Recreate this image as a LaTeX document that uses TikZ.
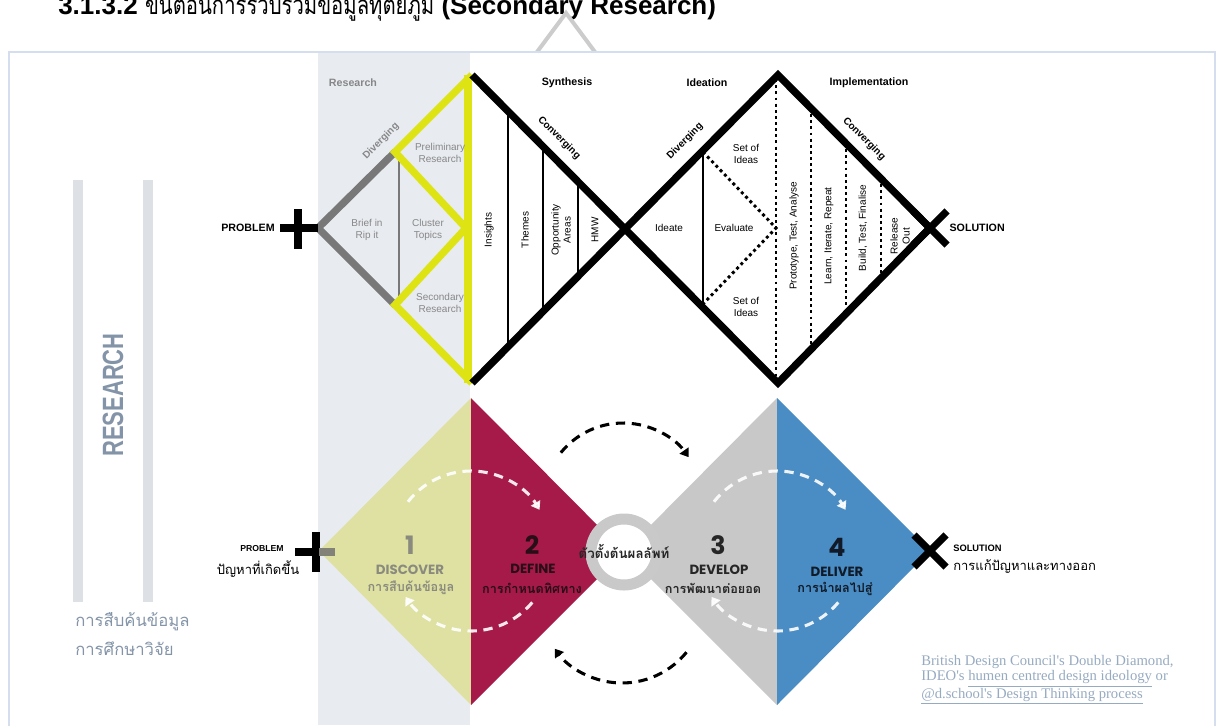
\documentclass[tikz,border=0pt]{standalone}
\usepackage{fontspec}
\setmainfont{Liberation Sans}
\newfontfamily\thaifont[Script=Thai]{Loma}
\newfontfamily\thaihead[Script=Thai,FakeStretch=0.78]{Loma}
\newfontfamily\geofont{Poppins}
\newfontfamily\narrowfont[FakeStretch=0.75]{Liberation Sans}
\newfontfamily\notefont{Liberation Serif}
\usetikzlibrary{arrows.meta}

\definecolor{bandgray}{RGB}{232,235,240}
\definecolor{bargray}{RGB}{221,225,230}
\definecolor{frameblue}{RGB}{212,222,238}
\definecolor{chevgray}{RGB}{204,204,204}
\definecolor{hiyellow}{RGB}{222,228,20}
\definecolor{midgray}{RGB}{120,120,120}
\definecolor{labgray}{RGB}{135,135,135}
\definecolor{crossgray}{RGB}{130,130,120}
\definecolor{discfill}{RGB}{222,225,162}
\definecolor{deffill}{RGB}{166,26,74}
\definecolor{devfill}{RGB}{200,200,200}
\definecolor{delfill}{RGB}{74,141,196}
\definecolor{ringgray}{RGB}{201,201,201}
\definecolor{disctext}{RGB}{138,138,126}
\definecolor{defdark}{RGB}{40,14,22}
\definecolor{deldark}{RGB}{16,26,40}
\definecolor{slate}{RGB}{132,148,168}
\definecolor{notecol}{RGB}{150,170,192}

\tikzset{
  heavy/.style={line width=5.5pt},
  fine/.style={line width=1.9pt},
  dots/.style={line width=2.2pt, dash pattern=on 2.2pt off 2.4pt},
  lab/.style={font=\fontsize{7.5}{9}\selectfont, align=center, inner sep=1pt},
  greylab/.style={lab, text=labgray},
  head/.style={font=\fontsize{8}{9}\selectfont\bfseries, inner sep=1pt},
  slant/.style={font=\fontsize{7.5}{9}\selectfont\bfseries, inner sep=1pt},
  loopwhite/.style={white, opacity=.9, line width=2.3pt, dash pattern=on 7pt off 5pt,
    -{Triangle[length=6pt,width=8pt]}},
  loopblack/.style={black, line width=2.3pt, dash pattern=on 7pt off 5pt,
    -{Triangle[length=6pt,width=8pt]}},
  num/.style={font=\geofont\bfseries\fontsize{19}{19}\selectfont, inner sep=0pt},
  stage/.style={font=\geofont\bfseries\fontsize{10}{10}\selectfont, inner sep=0pt},
  thaisub/.style={font=\thaifont\bfseries\fontsize{9.5}{10}\selectfont, inner sep=0pt},
  thaiside/.style={font=\thaifont\fontsize{9.75}{10}\selectfont, inner sep=0pt},
}

\begin{document}
\begin{tikzpicture}[x=0.75pt,y=-0.75pt]
\useasboundingbox (0,0) rectangle (1217,725);
\clip (0,0) rectangle (1217,725);

% heading, cut by the top edge
\node[anchor=base west, inner sep=0pt, font=\fontsize{19.5}{19.5}\selectfont\bfseries] (heading) at (58,14)
  {3.1.3.2 {\thaihead\mdseries ขั้นตอนการรวบรวมข้อมูลทุติยภูมิ} (Secondary Research)};
\coordinate (chl) at (537,52);
\coordinate (cht) at (566,13);
\coordinate (chr) at (595,52);
\draw[chevgray, line width=3pt] (chl) -- (cht) -- (chr);

\fill[bandgray] (318,53) rectangle (470,725);
\draw[frameblue, line width=1.5pt] (9,52) rectangle (1215,740);

% left panel
\fill[bargray] (73,180) rectangle (83,602);
\fill[bargray] (143,180) rectangle (153,602);
\node[rotate=90, text=slate, font=\narrowfont\bfseries\fontsize{22}{22}\selectfont] (research) at (113,395) {RESEARCH};
\node[anchor=west, text=slate, font=\thaifont\fontsize{12.5}{13}\selectfont, inner sep=0pt] (search) at (75,622) {การสืบค้นข้อมูล};
\node[anchor=west, text=slate, font=\thaifont\fontsize{12.5}{13}\selectfont, inner sep=0pt] (study) at (75,649) {การศึกษาวิจัย};

% upper double diamond
\coordinate (pl) at (318,228);
\coordinate (at) at (472,75);
\coordinate (ab) at (472,383);
\coordinate (bt) at (778,75);
\coordinate (bb) at (778,383);
\coordinate (sr) at (930,228);
\coordinate (yu) at (395,152);
\coordinate (ym) at (466,228);
\coordinate (yd) at (395,305);
\coordinate (yt) at (468,75);
\coordinate (yb) at (468,383);

\draw[fine, midgray] (399,155) -- (399,302);
\draw[heavy, midgray] (yu) -- (pl) -- (yd);
\draw[heavy, hiyellow] (at) -- (yu) -- (ym) -- (yd) -- (ab);
\draw[heavy, hiyellow] (yt) -- (yb);
\foreach \x in {508,543,578}
  \draw[fine] (\x,{\x-397}) -- (\x,{855-\x});
\draw[fine] (703,150) -- (703,306);
\draw[dots] (703,152) -- (776,228) -- (703,304);
\foreach \x in {776,811,846,881}
  \draw[dots] (\x,{\x-703}) -- (\x,{1161-\x});
\draw[heavy] (ab) -- (bt) -- (sr) -- (bb) -- (at);
\draw[heavy] (280,228) -- (pl);
\draw[heavy] (298,209) -- (298,249);
\draw[heavy] (sr) +(-17,-17) -- +(17,17) (sr) +(-17,17) -- +(17,-17);

\node[head, text=labgray] (researchhead) at (353,83) {Research};
\node[head] (synthesis) at (567,83) {Synthesis};
\node[head] (ideation) at (707,83) {Ideation};
\node[head] (implementation) at (869,83) {Implementation};
\node[slant, text=labgray, rotate=45] (diverge1) at (381,141) {Diverging};
\node[slant, rotate=-45] (converge1) at (559,138) {Converging};
\node[slant, rotate=45] (diverge2) at (685,141) {Diverging};
\node[slant, rotate=-45] (converge2) at (864,139) {Converging};

\node[greylab] (prelim) at (440,153) {Preliminary\\Research};
\node[greylab] (brief) at (367,230) {Brief in\\Rip it};
\node[greylab] (cluster) at (428,230) {Cluster\\Topics};
\node[greylab] (secondary) at (440,303) {Secondary\\Research};
\node[lab, rotate=90] (insights) at (489,230) {Insights};
\node[lab, rotate=90] (themes) at (525,230) {Themes};
\node[lab, rotate=90] (opportunity) at (561,230) {Opportunity\\Areas};
\node[lab, rotate=90] (hmw) at (595,230) {HMW};
\node[lab] (ideate) at (669,228) {Ideate};
\node[lab] (evaluate) at (734,228) {Evaluate};
\node[lab] (setup) at (746,154) {Set of\\Ideas};
\node[lab] (setdown) at (746,307) {Set of\\Ideas};
\node[lab, rotate=90] (prototype) at (794,236) {Prototype, Test, Analyse};
\node[lab, rotate=90] (learn) at (829,236) {Learn, Iterate, Repeat};
\node[lab, rotate=90] (build) at (863,228) {Build, Test, Finalise};
\node[lab, rotate=90] (release) at (900,236) {Release\\Out};
\node[head] (problem) at (248,228) {PROBLEM};
\node[head, anchor=west] (solution) at (948,228) {SOLUTION};

% lower double diamond
\coordinate (dl) at (319,551);
\coordinate (dt) at (471,398);
\coordinate (db) at (471,705);
\coordinate (rc) at (624,552);
\coordinate (vt) at (777,398);
\coordinate (vb) at (777,705);
\coordinate (vr) at (930,551);
\fill[discfill] (dl) -- (dt) -- (db) -- cycle;
\fill[deffill] (dt) -- (rc) -- (db) -- cycle;
\fill[devfill] (rc) -- (vt) -- (vb) -- cycle;
\fill[delfill] (vt) -- (vr) -- (vb) -- cycle;
\draw[ringgray, line width=8.25pt, fill=white] (rc) circle[radius=33];

\draw[heavy] (316,532) -- (316,572);
\draw[heavy] (295,552) -- (319,552);
\draw[heavy, crossgray] (319,552) -- (335,552);
\draw[heavy] (vr) +(-16,-16) -- +(16,16) (vr) +(-16,16) -- +(16,-16);

\coordinate (lc) at (471,551);
\coordinate (rcc) at (777,551);
\coordinate (topc) at (623,503);
\coordinate (botc) at (622,600);
\foreach \c in {lc,rcc}{
  \draw[loopwhite] (\c) ++(-142:80) arc[start angle=-142, end angle=-31, radius=80];
  \draw[loopwhite] (\c) ++(40:80) arc[start angle=40, end angle=145, radius=80];
}
\draw[loopblack] (topc) ++(-141:80) arc[start angle=-141, end angle=-35, radius=80];
\draw[loopblack] (botc) ++(39:83) arc[start angle=39, end angle=144, radius=83];

\node[num, text=disctext] (one) at (410,545) {1};
\node[stage, text=disctext] (discover) at (410,570) {DISCOVER};
\node[thaisub, text=disctext] (discoverth) at (411,588) {การสืบค้นข้อมูล};
\node[num, text=defdark] (two) at (532,545) {2};
\node[stage, text=defdark] (define) at (533,569) {DEFINE};
\node[thaisub, text=defdark] (defineth) at (532,588) {การกำหนดทิศทาง};
\node[num, text=black!85] (three) at (718,545) {3};
\node[stage, text=black!85] (develop) at (719,570) {DEVELOP};
\node[thaisub, text=black!85] (developth) at (713,588) {การพัฒนาต่อยอด};
\node[num, text=deldark] (four) at (837,547) {4};
\node[stage, text=deldark] (deliver) at (837,572) {DELIVER};
\node[thaisub, text=deldark] (deliverth) at (835,589) {การนำผลไปสู่};
\node[font=\thaifont\bfseries\fontsize{10}{10}\selectfont, text=black!85, inner sep=0pt] (seed) at (624,551) {ตัวตั้งต้นผลลัพท์};

\node[font=\fontsize{6.5}{7}\selectfont\bfseries, inner sep=0pt] (problem2) at (262,549) {PROBLEM};
\node[thaiside] (problemth) at (258,569) {ปัญหาที่เกิดขึ้น};
\node[font=\fontsize{7}{7}\selectfont\bfseries, inner sep=0pt, anchor=west] (solution2) at (953,548) {SOLUTION};
\node[thaiside, anchor=west] (solutionth) at (953,567) {การแก้ปัญหาและทางออก};

\node[anchor=north west, align=left, text=notecol, inner sep=0pt,
  font=\notefont\fontsize{11}{11.6}\selectfont] (credit) at (921,655)
  {British Design Council's Double Diamond,\\
   IDEO's \underline{humen centred design ideology} or\\
   \underline{@d.school's Design Thinking process}};
\end{tikzpicture}
\end{document}
